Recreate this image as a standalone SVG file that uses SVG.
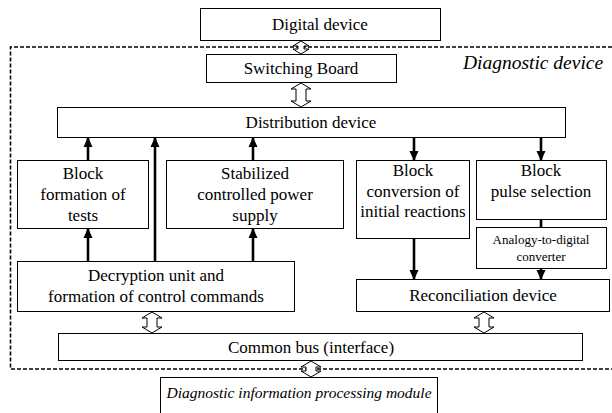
<svg xmlns="http://www.w3.org/2000/svg" width="612" height="413" viewBox="0 0 612 413">
<style>
.box{fill:#fff;stroke:#000;stroke-width:1}
.t{font-family:'Liberation Serif','Times New Roman',serif;font-size:17px;fill:#000;text-anchor:middle}
.s{font-size:13px}
.i{font-style:italic}
.arr{stroke:#000;stroke-width:2.6;fill:none}
.dbl{fill:#fff;stroke:#000;stroke-width:1}
.dash{fill:none;stroke:#000;stroke-width:1.6;stroke-dasharray:4 2}
</style>
<defs>
<marker id="ah" markerUnits="userSpaceOnUse" markerWidth="10" markerHeight="10" refX="9" refY="5" orient="auto">
<path d="M0,0.5 L10,5 L0,9.5 Z" fill="#000"/>
</marker>
</defs>
<rect width="612" height="413" fill="#fff"/>
<path class="dash" d="M612,47 H10.5 V369 H612"/>
<text class="t i" x="533" y="69" style="font-size:19.5px">Diagnostic device</text>

<g id="digital"><rect class="box" x="200.5" y="8.5" width="240" height="32"/><text class="t" x="320" y="30">Digital device</text></g>
<g id="switching"><rect class="box" x="206.5" y="54.5" width="190" height="28"/><text class="t" x="301" y="74">Switching Board</text></g>
<g id="distribution"><rect class="box" x="57.5" y="107.5" width="508" height="30"/><text class="t" x="311" y="128">Distribution device</text></g>
<g id="formation"><rect class="box" x="17.5" y="160.5" width="131" height="68"/><text class="t" x="83" y="179">Block</text><text class="t" x="83" y="200">formation of</text><text class="t" x="83" y="221">tests</text></g>
<g id="power"><rect class="box" x="166.5" y="160.5" width="177" height="68"/><text class="t" x="255" y="179">Stabilized</text><text class="t" x="255" y="200">controlled power</text><text class="t" x="255" y="221">supply</text></g>
<g id="conversion"><rect class="box" x="356.5" y="160.5" width="113" height="78"/><text class="t" x="413" y="176">Block</text><text class="t" x="413" y="197">conversion of</text><text class="t" x="413" y="217">initial reactions</text></g>
<g id="pulse"><rect class="box" x="476.5" y="160.5" width="130" height="59"/><text class="t" x="541" y="176">Block</text><text class="t" x="541" y="197">pulse selection</text></g>
<g id="adc"><rect class="box" x="476.5" y="227.5" width="130" height="41"/><text class="t s" x="541" y="244">Analogy-to-digital</text><text class="t s" x="541" y="261">converter</text></g>
<g id="decryption"><rect class="box" x="17.5" y="261.5" width="277" height="50"/><text class="t" x="156" y="281">Decryption unit and</text><text class="t" x="156" y="302">formation of control commands</text></g>
<g id="reconciliation"><rect class="box" x="356.5" y="279.5" width="253" height="32"/><text class="t" x="483" y="301">Reconciliation device</text></g>
<g id="bus"><rect class="box" x="58.5" y="333.5" width="524" height="27"/><text class="t" x="311" y="353">Common bus (interface)</text></g>
<g id="processing"><rect class="box" x="160.5" y="377.5" width="277" height="40"/><text class="t i" x="299" y="398" style="font-size:15.5px">Diagnostic information processing module</text></g>

<g id="connectors">
<line class="arr" x1="88" y1="160" x2="88" y2="138" marker-end="url(#ah)"/>
<line class="arr" x1="155" y1="261" x2="155" y2="138" marker-end="url(#ah)"/>
<line class="arr" x1="253" y1="160" x2="253" y2="138" marker-end="url(#ah)"/>
<line class="arr" x1="88" y1="261" x2="88" y2="229" marker-end="url(#ah)"/>
<line class="arr" x1="253" y1="261" x2="253" y2="229" marker-end="url(#ah)"/>
<line class="arr" x1="414" y1="138" x2="414" y2="160" marker-end="url(#ah)"/>
<line class="arr" x1="541" y1="138" x2="541" y2="160" marker-end="url(#ah)"/>
<line class="arr" x1="541" y1="220" x2="541" y2="227"/>
<line class="arr" x1="414" y1="239" x2="414" y2="279" marker-end="url(#ah)"/>
<line class="arr" x1="541" y1="269" x2="541" y2="279" marker-end="url(#ah)"/>
<polygon class="dbl" points="301,41 309,46 304,46 304,49 309,49 301,54 293,49 298,49 298,46 293,46"/>
<polygon class="dbl" points="301,83 311,89 306,89 306,101 311,101 301,107 291,101 296,101 296,89 291,89"/>
<polygon class="dbl" points="152,312 162,318 157,318 157,327 162,327 152,333 142,327 147,327 147,318 142,318"/>
<polygon class="dbl" points="484,312 494,318 489,318 489,327 494,327 484,333 474,327 479,327 479,318 474,318"/>
<polygon class="dbl" points="311,361 321,367 316,367 316,371 321,371 311,377 301,371 306,371 306,367 301,367"/>
</g>
</svg>
